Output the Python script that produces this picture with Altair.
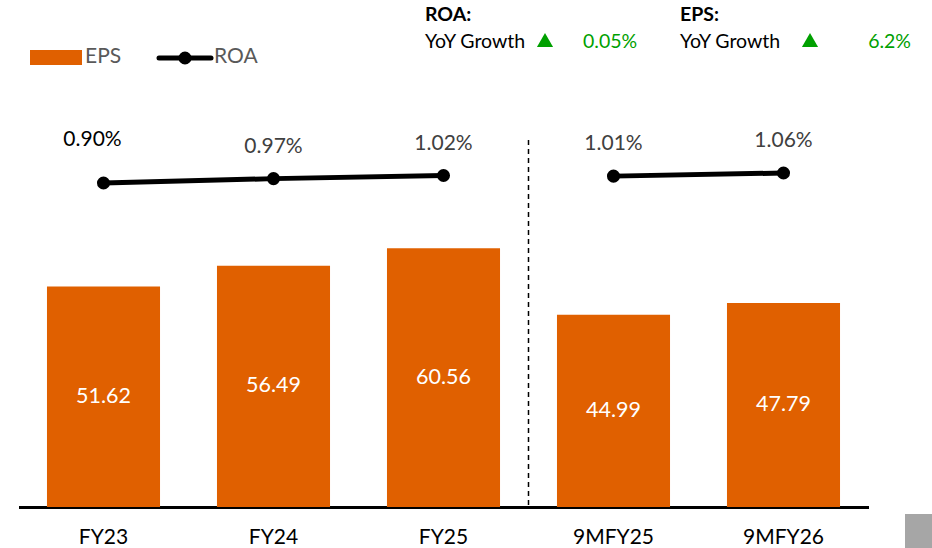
import altair as alt
import pandas as pd

# ---- data ----
periods = ["FY23", "FY24", "FY25", "9MFY25", "9MFY26"]
eps = [51.62, 56.49, 60.56, 44.99, 47.79]
roa = [0.90, 0.97, 1.02, 1.01, 1.06]
segment = ["Full year", "Full year", "Full year", "Nine months", "Nine months"]
growth_metrics = ["ROA:", "EPS:"]
growth_values = ["0.05%", "6.2%"]

df = pd.DataFrame({"period": periods, "eps": eps, "roa": roa, "segment": segment})
df["eps_label"] = df["eps"].map("{:.2f}".format)
df["roa_label"] = df["roa"].map(lambda v: f"{v:.2f}%")
df["eps_mid"] = df["eps"] / 2

# ---- styling ----
ORANGE = "#E06000"
GREEN = "#00A000"
GREY_TXT = "#595959"
FONT = "Lato"
W, H = 850, 407
PAD = {"left": 18.5, "top": 100, "right": 63.5, "bottom": 41}

x_enc = alt.X(
    "period:N",
    sort=periods,
    scale=alt.Scale(paddingInner=0.335, paddingOuter=0.1675),
    axis=alt.Axis(
        title=None, labelAngle=0, ticks=False, domainColor="black", domainWidth=3,
        labelFont=FONT, labelFontSize=21, labelColor="black", labelPadding=19,
    ),
)
eps_scale = alt.Scale(domain=[0, 95.3], nice=False, zero=True)
roa_scale = alt.Scale(domain=[-4.284, 2.228], nice=False, zero=False)
roa_y = alt.Y("roa:Q", scale=roa_scale, axis=None)

base = alt.Chart(df)

bars = base.mark_bar(color=ORANGE).encode(
    x=x_enc, y=alt.Y("eps:Q", scale=eps_scale, axis=None)
)
bar_labels = base.mark_text(color="white", font=FONT, fontSize=21.5, baseline="middle").encode(
    x=x_enc, y=alt.Y("eps_mid:Q", scale=eps_scale, axis=None), text="eps_label:N"
)
roa_line = base.mark_line(color="black", strokeWidth=5).encode(
    x=x_enc, y=roa_y, detail="segment:N"
)
roa_points = base.mark_circle(color="black", size=170, opacity=1).encode(
    x=x_enc, y=roa_y
)
# first label sits higher and to the left of its point
first_is = alt.datum.period == periods[0]
roa_labels = base.transform_filter(~first_is).mark_text(
    color="#404040", font=FONT, fontSize=21, dy=-32, baseline="middle"
).encode(x=x_enc, y=roa_y, text="roa_label:N")
roa_label_first = base.transform_filter(first_is).mark_text(
    color="black", font=FONT, fontSize=21, dx=-11, dy=-43, baseline="middle"
).encode(x=x_enc, y=roa_y, text="roa_label:N")

one = alt.Chart(pd.DataFrame({"k": [0]}))

# separator between full-year and nine-month periods
divider = one.mark_rule(color="black", strokeWidth=1.5, strokeDash=[5, 4]).encode(
    x=alt.value(510), y=alt.value(40), y2=alt.value(407)
)

# legend
legend_eps_swatch = one.mark_rect(color=ORANGE).encode(
    x=alt.value(11.5), x2=alt.value(63.5), y=alt.value(-50), y2=alt.value(-35)
)
legend_eps_text = one.mark_text(text="EPS", font=FONT, fontSize=21, color=GREY_TXT,
                                align="left", baseline="middle").encode(
    x=alt.value(66.5), y=alt.value(-43)
)
legend_roa_line = one.mark_rule(color="black", strokeWidth=5, strokeCap="round").encode(
    x=alt.value(140.5), x2=alt.value(192.5), y=alt.value(-42)
)
legend_roa_dot = one.mark_circle(color="black", size=170, opacity=1).encode(
    x=alt.value(166.5), y=alt.value(-42)
)
legend_roa_text = one.mark_text(text="ROA", font=FONT, fontSize=21, color=GREY_TXT,
                                align="left", baseline="middle").encode(
    x=alt.value(195.5), y=alt.value(-43)
)

# growth call-outs
callouts = []
for metric, value, left, tri_x, val_x, val_align in [
    (growth_metrics[0], growth_values[0], 406.5, 526.5, 564.5, "left"),
    (growth_metrics[1], growth_values[1], 661.5, 791.5, 892.5, "right"),
]:
    callouts.append(one.mark_text(text=metric, font=FONT, fontSize=19.5, fontWeight="bold",
                                  color="black", align="left", baseline="middle").encode(
        x=alt.value(left), y=alt.value(-85)))
    callouts.append(one.mark_text(text="YoY Growth", font=FONT, fontSize=19.5,
                                  color="black", align="left", baseline="middle").encode(
        x=alt.value(left), y=alt.value(-58)))
    callouts.append(one.mark_point(shape="triangle-up", filled=True, color=GREEN,
                                   size=260, opacity=1).encode(
        x=alt.value(tri_x), y=alt.value(-60)))
    callouts.append(one.mark_text(text=value, font=FONT, fontSize=19.5, color=GREEN,
                                  align=val_align, baseline="middle").encode(
        x=alt.value(val_x), y=alt.value(-58)))

corner_box = one.mark_rect(color="#A6A6A6").encode(
    x=alt.value(886.5), x2=alt.value(913.5), y=alt.value(414), y2=alt.value(448)
)

chart = alt.layer(
    bars, bar_labels, roa_line, roa_points, roa_labels, roa_label_first, divider,
    legend_eps_swatch, legend_eps_text, legend_roa_line, legend_roa_dot, legend_roa_text,
    *callouts, corner_box,
).resolve_scale(y="independent").properties(
    width=W, height=H, autosize=alt.AutoSizeParams(type="none"), padding=PAD,
    background="white",
).configure_view(stroke=None)

chart.save("out.html", embed_options={"renderer": "svg", "actions": False})
